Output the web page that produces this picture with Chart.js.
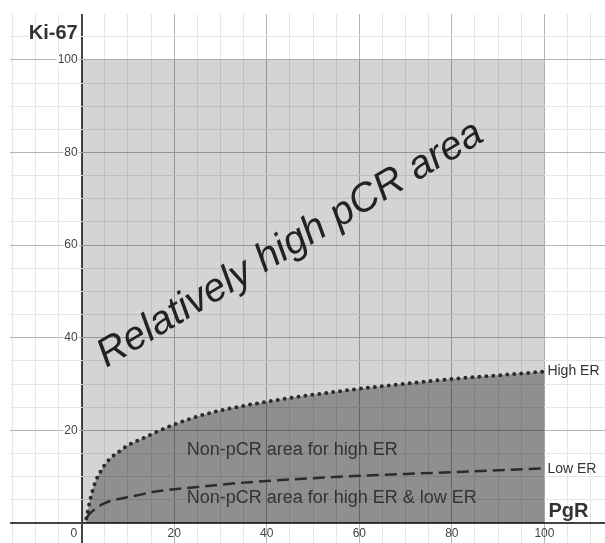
<!DOCTYPE html>
<html>
<head>
<meta charset="utf-8">
<script src="https://cdn.jsdelivr.net/npm/chart.js@4"></script>
<style>
  html, body { margin: 0; padding: 0; background: #fff; }
  canvas { display: block; }
</style>
</head>
<body>
<canvas id="pcrChart" width="605" height="543"></canvas>
<script>
// values
const pgr      = [1, 2, 3, 4, 5, 6, 8, 10, 13, 16, 20, 25, 30, 40, 50, 60, 70, 80, 90, 100];
const highER   = [1.0, 5.8, 9.0, 11.0, 12.6, 13.8, 15.4, 16.8, 18.2, 19.6, 21.3, 23.0, 24.3, 26.2, 27.7, 29.0, 30.1, 31.1, 31.9, 32.7];
const lowER    = [1.1, 2.3, 3.1, 3.8, 4.3, 4.7, 5.2, 5.6, 6.2, 6.8, 7.3, 7.8, 8.3, 9.1, 9.7, 10.2, 10.6, 11.0, 11.4, 11.8];
const boxX     = [0, 100];
const boxY     = [100, 100];
const xTickLabels = [0, 20, 40, 60, 80, 100];
const yTickLabels = [20, 40, 60, 80, 100];

const toPoints = (xs, ys) => xs.map((x, i) => ({ x: x, y: ys[i] }));

// all the text drawn on top of the plot
const labelsPlugin = {
    id: 'labels',
    afterDatasetsDraw(chart) {
        const ctx = chart.ctx;
        const xs = chart.scales.x, ys = chart.scales.y;
        const px = v => xs.getPixelForValue(v);
        const py = v => ys.getPixelForValue(v);
        ctx.save();

        // tick labels next to the axes
        ctx.font = '12px "Liberation Sans", Arial, sans-serif';
        ctx.fillStyle = '#444';
        ctx.textBaseline = 'middle';
        ctx.textAlign = 'right';
        yTickLabels.forEach(v => {
            const w = ctx.measureText(String(v)).width;
            ctx.fillStyle = '#fff';
            ctx.fillRect(px(0) - 4 - w - 1, py(v) - 6, w + 2, 12);
            ctx.fillStyle = '#444';
            ctx.fillText(String(v), px(0) - 4, py(v));
        });
        ctx.textAlign = 'center';
        xTickLabels.forEach(v => {
            const x = v === 0 ? px(0) - 8 : px(v);
            ctx.fillText(String(v), x, py(0) + 11);
        });

        // axis titles
        ctx.fillStyle = '#333';
        ctx.font = 'bold 20px "Liberation Sans", Arial, sans-serif';
        ctx.textBaseline = 'alphabetic';
        ctx.textAlign = 'right';
        ctx.fillText('Ki-67', px(0) - 4, 39);
        ctx.textAlign = 'left';
        ctx.fillText('PgR', px(100) + 4, py(0) - 6);

        // curve labels
        ctx.font = '14px "Liberation Sans", Arial, sans-serif';
        ctx.textBaseline = 'middle';
        ctx.fillText('High ER', px(100) + 3, py(highER[highER.length - 1]));
        ctx.fillText('Low ER', px(100) + 3, py(lowER[lowER.length - 1]) + 1);

        // region labels
        ctx.font = '18px "Liberation Sans", Arial, sans-serif';
        ctx.fillStyle = '#333';
        ctx.fillText('Non-pCR area for high ER', px(22.7), py(15.8));
        ctx.fillText('Non-pCR area for high ER & low ER', px(22.7), py(5.4));

        // big rotated caption
        ctx.translate(px(46.3), py(58.1));
        ctx.rotate(-31 * Math.PI / 180);
        ctx.font = 'italic 40px "Liberation Sans", Arial, sans-serif';
        ctx.fillStyle = '#222';
        ctx.textAlign = 'center';
        ctx.textBaseline = 'alphabetic';
        ctx.fillText('Relatively high pCR area', 0, 0);

        ctx.restore();
    }
};

function gridColor(c) {
    const v = c.tick.value;
    if (v === 0) return '#444';
    if (v % 20 === 0) return '#b4b4b4';
    return '#e6e6e6';
}
function gridWidth(c) {
    return c.tick.value === 0 ? 2 : 1;
}
function fiveSteps(scale) {
    const ticks = [];
    for (let v = Math.ceil(scale.min / 5) * 5; v <= scale.max; v += 5) ticks.push({ value: v });
    scale.ticks = ticks;
}

const ctx = document.getElementById('pcrChart').getContext('2d');
const pcrChart = new Chart(ctx, {
    type: 'scatter',
    data: {
        datasets: [
            {
                label: 'area',
                data: toPoints(boxX, boxY),
                showLine: true,
                borderWidth: 0,
                pointRadius: 0,
                fill: 'origin',
                backgroundColor: 'rgba(0,0,0,0.17)',
                order: 3
            },
            {
                label: 'High ER',
                data: toPoints(pgr, highER),
                showLine: true,
                cubicInterpolationMode: 'monotone',
                borderColor: '#2b2b2b',
                borderWidth: 4,
                borderDash: [0, 7],
                borderCapStyle: 'round',
                pointRadius: 0,
                fill: 'origin',
                backgroundColor: 'rgba(0,0,0,0.33)',
                order: 2
            },
            {
                label: 'Low ER',
                data: toPoints(pgr, lowER),
                showLine: true,
                cubicInterpolationMode: 'monotone',
                borderColor: '#2b2b2b',
                borderWidth: 2.5,
                borderDash: [12, 6],
                pointRadius: 0,
                fill: false,
                order: 1
            }
        ]
    },
    options: {
        responsive: false,
        animation: false,
        layout: { padding: { top: 14, left: 10, right: 0, bottom: 0 } },
        plugins: { legend: { display: false }, tooltip: { enabled: false } },
        scales: {
            x: {
                type: 'linear',
                min: -15.5,
                max: 113.1,
                afterBuildTicks: fiveSteps,
                ticks: { display: false },
                border: { display: false },
                grid: { color: gridColor, lineWidth: gridWidth, drawTicks: false }
            },
            y: {
                type: 'linear',
                min: -4.3,
                max: 109.9,
                afterBuildTicks: fiveSteps,
                ticks: { display: false },
                border: { display: false },
                grid: { color: gridColor, lineWidth: gridWidth, drawTicks: false }
            }
        }
    },
    plugins: [labelsPlugin]
});
</script>
</body>
</html>
